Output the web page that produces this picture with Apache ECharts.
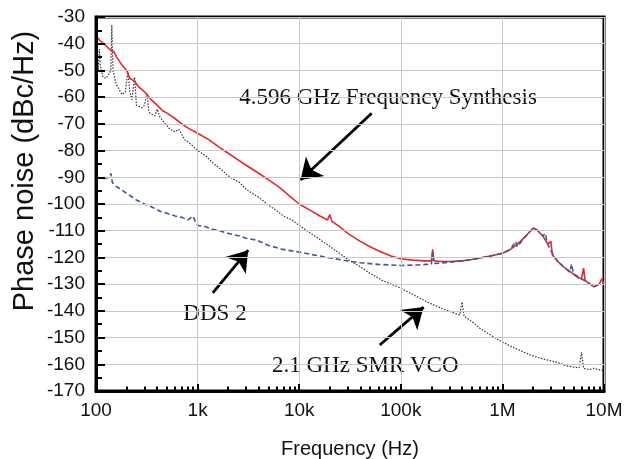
<!DOCTYPE html>
<html>
<head>
<meta charset="utf-8">
<script src="https://cdn.jsdelivr.net/npm/echarts@6/dist/echarts.min.js"></script>
<style>
html,body{margin:0;padding:0;background:#fff;}
#chart{width:636px;height:459px;}
</style>
</head>
<body>
<div id="chart"></div>
<script>
// Tick labels
const xTickValues = [100, 1000, 10000, 100000, 1000000, 10000000];
const xTickLabels = ['100', '1k', '10k', '100k', '1M', '10M'];
const xMinorTicks = [200,300,400,500,600,700,800,900,
  2000,3000,4000,5000,6000,7000,8000,9000,
  20000,30000,40000,50000,60000,70000,80000,90000,
  200000,300000,400000,500000,600000,700000,800000,900000,
  2000000,3000000,4000000,5000000,6000000,7000000,8000000,9000000];

// 4.596 GHz Frequency Synthesis (red)
const synthFreq = [100,110,120,135,150,160,180,200,216,240,260,300,350,400,450,500,600,700,800,1000,1300,1600,2000,2500,3000,4000,5000,6000,7000,8000,10000,13000,16000,19000,20000,21000,25000,30000,40000,50000,60000,80000,100000,130000,170000,200000,206000,212000,250000,300000,400000,500000,640000,800000,1000000,1200000,1350000,1500000,1700000,1900000,2030000,2200000,2500000,2800000,3000000,3100000,3500000,4000000,4900000,5500000,6000000,6300000,6500000,7000000,8000000,9000000,9500000,10000000];
const synthVal = [-37,-39,-40,-42,-43,-45,-48,-50,-53,-54,-56,-58,-61,-63,-65,-66,-68,-70,-71.5,-73.5,-76,-78.5,-81,-83.5,-85.5,-88.5,-91,-93,-95,-97,-100,-102.5,-104.5,-106,-104,-106.5,-108.5,-111,-114,-116,-117.5,-119.5,-120.5,-121,-121.3,-121.3,-117,-121.3,-121.5,-121.5,-121.3,-120.8,-120,-119.3,-118.4,-117,-115.5,-114,-112,-110,-109,-109.8,-112,-115,-114,-119,-121.5,-123.5,-126,-127.5,-128,-124,-128.5,-129.5,-131,-130,-128,-130];

// DDS 2 (blue dashed)
const ddsFreq = [100,120,135,140,145,160,200,250,300,350,426,500,600,700,800,900,950,1000,1200,1400,1650,2000,2600,3000,3800,5000,6900,10000,15000,21000,30000,40000,60000,100000,150000,200000,206000,212000,300000,400000,500000,640000,800000,1000000,1200000,1350000,1400000,1700000,1900000,2030000,2200000,2500000,2650000,2750000,3000000,3500000,4000000,4600000,4800000,5000000,6000000,7000000,8000000,9000000,10000000];
const ddsVal = [-90,-90.5,-90,-88.5,-92,-93.5,-96,-98.5,-100,-101,-102.7,-103.5,-104.5,-105,-106,-104.5,-106.5,-108,-108.5,-109.5,-110,-111,-112,-112.8,-113.5,-115.5,-117,-118,-119.3,-120.3,-121.3,-122,-122.6,-123,-122.8,-122.5,-118,-122.3,-121.8,-121.3,-120.8,-120,-119.3,-118.4,-117,-114,-116,-112,-110,-109,-109.8,-112,-111,-114.5,-117.5,-121.5,-123.5,-125.5,-122.5,-126,-128,-129.5,-131,-130,-130];

// 2.1 GHz SMR VCO (black dotted)
const vcoFreq = [100,103,105,108,110,117,125,131,140,143,147,155,160,180,195,206,215,225,240,250,283,300,318,330,340,380,400,426,480,535,600,650,750,850,1000,1200,1400,1700,1940,2200,2600,3000,3300,4100,5000,6000,7000,8500,10000,13000,17000,22000,31000,40000,50000,65000,80000,100000,150000,190000,250000,320000,380000,400000,420000,500000,600000,800000,1000000,1300000,1900000,2500000,3400000,4200000,4900000,5700000,6000000,6300000,7100000,8000000,8800000,10000000];
const vcoVal = [-40,-45,-50,-42,-48,-52.5,-53,-52,-50,-33,-50,-54,-55.5,-59,-58,-50,-58,-61,-52.5,-63,-64,-63,-58.5,-65,-66,-67,-64.5,-67.5,-70,-72,-73,-72,-76,-77.5,-80,-82,-84.5,-87,-89,-90.5,-92,-94.5,-95.5,-97.8,-100.5,-102.5,-104.5,-106,-108,-111,-114,-117,-121,-123.5,-126,-128.5,-130,-131.5,-135,-137,-139,-140.5,-141.5,-136.7,-142,-144,-146.5,-149.5,-151.7,-153.8,-156.6,-158,-159.2,-160.5,-161,-161.3,-155.5,-161.5,-162,-161.5,-162,-162.3];

// Annotation arrows (data coordinates: [tail], [tip])
const arrows = [
  [[51700, -66], [10300, -91]],
  [[1410, -133.3], [3150, -117.3]],
  [[62000, -152.8], [168000, -138.6]]
];

const zip = (a, b) => a.map((v, i) => [v, b[i]]);
const yMin = -170, yMax = -30;

const chart = echarts.init(document.getElementById('chart'), null, {renderer: 'canvas'});
const labelFont = 'Liberation Sans, Arial, sans-serif';
const serif = 'Liberation Serif, Times New Roman, serif';

chart.setOption({
  backgroundColor: '#fff',
  animation: false,
  grid: {left: 96, right: 32, top: 17, bottom: 68, containLabel: false, outerBoundsMode: 'none',
         show: true, borderColor: '#000', borderWidth: 3, backgroundColor: 'transparent', z: 0},
  xAxis: [{
    type: 'log', logBase: 10, min: 100, max: 10000000, z: 20,
    name: 'Frequency (Hz)', nameLocation: 'middle', nameGap: 48,
    nameTextStyle: {fontFamily: labelFont, fontSize: 20, color: '#111'},
    axisLine: {show: true, onZero: false, lineStyle: {color: '#000', width: 3}},
    axisTick: {show: true, inside: true, length: 7, lineStyle: {color: '#000', width: 2}},
    minorTick: {show: false},
    splitLine: {show: true, lineStyle: {color: '#c8c8c8', width: 1}},
    axisLabel: {
      margin: 10, fontFamily: labelFont, fontSize: 19, color: '#111',
      formatter: v => { const i = xTickValues.findIndex(t => Math.abs(t - v) / t < 1e-6); return i >= 0 ? xTickLabels[i] : ''; }
    }
  }, {
    type: 'log', logBase: 10, min: 100, max: 10000000, position: 'bottom', z: 20,
    axisLine: {show: false, onZero: false},
    axisTick: {show: true, inside: true, length: 4.5, customValues: xMinorTicks, lineStyle: {color: '#000', width: 2}},
    axisLabel: {show: false},
    splitLine: {show: false}
  }],
  yAxis: {
    type: 'value', min: yMin, max: yMax, interval: 10, z: 20,
    axisLine: {show: true, onZero: false, lineStyle: {color: '#000', width: 3}},
    axisTick: {show: true, inside: true, length: 9, lineStyle: {color: '#000', width: 2}},
    minorTick: {show: true, splitNumber: 2, length: 6, lineStyle: {color: '#000', width: 2}},
    splitLine: {show: true, lineStyle: {color: '#c8c8c8', width: 1}},
    axisLabel: {margin: 11, fontFamily: labelFont, fontSize: 19, color: '#111'}
  },
  graphic: [
    {type: 'text', x: 25, y: 171, rotation: Math.PI / 2,
     style: {text: 'Phase noise (dBc/Hz)', font: '29px ' + labelFont, fill: '#111', align: 'center', verticalAlign: 'middle'}},
    {type: 'text', x: 388, y: 98,
     style: {text: '4.596 GHz Frequency Synthesis', font: '23px ' + serif, fill: '#111', align: 'center', verticalAlign: 'middle'}},
    {type: 'text', x: 215, y: 314,
     style: {text: 'DDS 2', font: '23px ' + serif, fill: '#111', align: 'center', verticalAlign: 'middle'}},
    {type: 'text', x: 272, y: 366,
     style: {text: '2.1 GHz SMR VCO', font: '23px ' + serif, fill: '#111', align: 'left', verticalAlign: 'middle'}}
  ],
  series: [
    {
      name: '2.1 GHz SMR VCO', type: 'line', data: zip(vcoFreq, vcoVal),
      showSymbol: false, symbol: 'none', smooth: false,
      lineStyle: {color: '#333', width: 1.2, type: [1.5, 1.5]},
      z: 3,
      markLine: {
        silent: true, symbol: ['none', 'arrow'], symbolSize: 20,
        label: {show: false},
        lineStyle: {color: '#000', width: 2.8, type: 'solid'},
        data: arrows.map(a => [{coord: a[0]}, {coord: a[1]}])
      }
    },
    {
      name: '4.596 GHz Frequency Synthesis', type: 'line', data: zip(synthFreq, synthVal),
      showSymbol: false, symbol: 'none',
      lineStyle: {color: '#e8262b', width: 1.6},
      z: 4
    },
    {
      name: 'DDS 2', type: 'line', data: zip(ddsFreq, ddsVal),
      showSymbol: false, symbol: 'none',
      lineStyle: {color: '#40579a', width: 1.6, type: [5, 3]},
      z: 5
    }
  ]
});
</script>
</body>
</html>
